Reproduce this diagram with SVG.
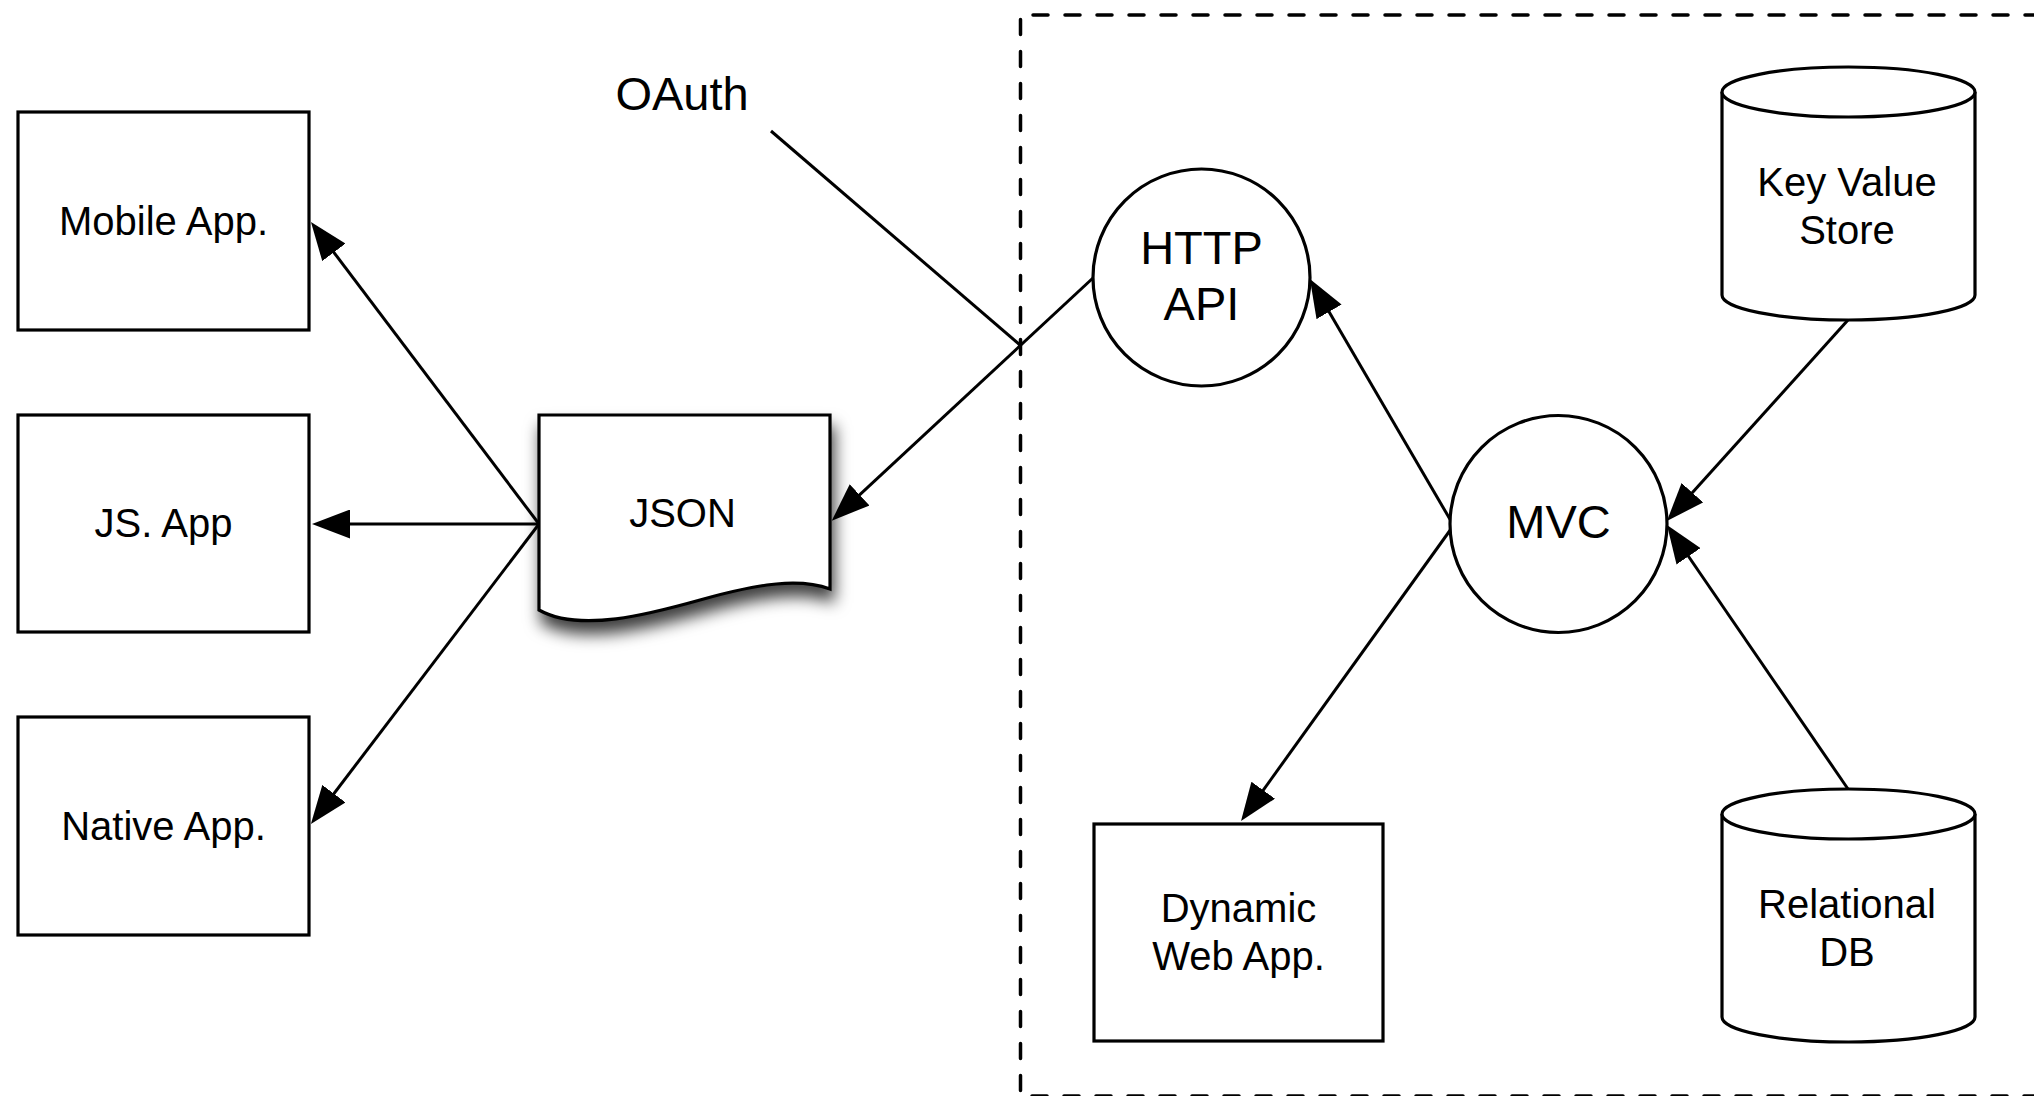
<svg xmlns="http://www.w3.org/2000/svg" width="2034" height="1096" viewBox="0 0 2034 1096">
  <style>
    .shape { fill: #fff; stroke: #000; stroke-width: 3.2; }
    .edge { fill: none; stroke: #000; stroke-width: 3; }
    .arrow { marker-end: url(#head); }
    .boundary { fill: none; stroke: #000; stroke-width: 3.5; stroke-dasharray: 15 17; stroke-linecap: round; }
    text { font-family: "Liberation Sans", Arial, Helvetica, sans-serif; fill: #000; text-anchor: middle; }
    .t40 { font-size: 40px; }
    .t47 { font-size: 47px; }
  </style>
  <defs>
    <marker id="head" markerUnits="userSpaceOnUse" markerWidth="38" markerHeight="29" refX="18" refY="14.5" orient="auto">
      <path d="M0,0 L38,14.5 L0,29 Z" fill="#000"/>
    </marker>
    <filter id="docShadow" x="-25%" y="-25%" width="160%" height="170%">
      <feDropShadow dx="3" dy="12" stdDeviation="8" flood-color="#000" flood-opacity="0.75"/>
    </filter>
  </defs>

  <rect width="2034" height="1096" fill="#fff"/>

  <!-- server-side boundary -->
  <path id="boundary" class="boundary" d="M2040,15 L1020.5,15 L1020.5,1096 L2040,1096"/>

  <!-- connectors -->
  <g id="connectors">
    <line class="edge arrow" x1="539" y1="524" x2="323" y2="238"/>
    <line class="edge arrow" x1="539" y1="524" x2="332" y2="524"/>
    <line class="edge arrow" x1="539" y1="524" x2="323" y2="808"/>
    <line class="edge arrow" x1="1093" y1="278" x2="846.4" y2="507.1"/>
    <line class="edge" x1="771" y1="131" x2="1020" y2="345"/>
    <line class="edge arrow" x1="1451" y1="521" x2="1320" y2="296.3"/>
    <line class="edge arrow" x1="1451" y1="529" x2="1252.7" y2="804.8"/>
    <line class="edge arrow" x1="1848" y1="320" x2="1680.3" y2="506.1"/>
    <line class="edge arrow" x1="1848" y1="789" x2="1678.3" y2="541.5"/>
  </g>

  <g id="oauth-label">
    <text x="682" y="110" class="t47">OAuth</text>
  </g>

  <g id="mobile-app">
    <rect class="shape" x="18" y="112" width="291" height="218"/>
    <text x="163.5" y="235" class="t40">Mobile App.</text>
  </g>

  <g id="js-app">
    <rect class="shape" x="18" y="415" width="291" height="217"/>
    <text x="163.5" y="537" class="t40">JS. App</text>
  </g>

  <g id="native-app">
    <rect class="shape" x="18" y="717" width="291" height="218"/>
    <text x="163.5" y="840" class="t40">Native App.</text>
  </g>

  <g id="json">
    <path class="shape" filter="url(#docShadow)" d="M539,415 L830,415 L830,589 C800,578 760,583 700,600 C650,614 580,633 539,610 Z"/>
    <text x="682.5" y="527" class="t40">JSON</text>
  </g>

  <g id="http-api">
    <circle class="shape" cx="1201.5" cy="277.5" r="108.5"/>
    <text x="1201.5" y="264" class="t47">HTTP</text>
    <text x="1201.5" y="319.5" class="t47">API</text>
  </g>

  <g id="mvc">
    <circle class="shape" cx="1558.5" cy="524" r="108.5"/>
    <text x="1558.5" y="538" class="t47">MVC</text>
  </g>

  <g id="key-value-store">
    <path class="shape" d="M1722,92 L1722,295 A126.5,25 0 0 0 1975,295 L1975,92 A126.5,25 0 0 0 1722,92 Z"/>
    <path class="shape" d="M1722,92 A126.5,25 0 0 0 1975,92"/>
    <text x="1847" y="196" class="t40">Key Value</text>
    <text x="1847" y="244" class="t40">Store</text>
  </g>

  <g id="relational-db">
    <path class="shape" d="M1722,814 L1722,1017 A126.5,25 0 0 0 1975,1017 L1975,814 A126.5,25 0 0 0 1722,814 Z"/>
    <path class="shape" d="M1722,814 A126.5,25 0 0 0 1975,814"/>
    <text x="1847" y="918" class="t40">Relational</text>
    <text x="1847" y="966" class="t40">DB</text>
  </g>

  <g id="dynamic-web-app">
    <rect class="shape" x="1094" y="824" width="289" height="217"/>
    <text x="1238.5" y="922" class="t40">Dynamic</text>
    <text x="1238.5" y="970" class="t40">Web App.</text>
  </g>
</svg>
